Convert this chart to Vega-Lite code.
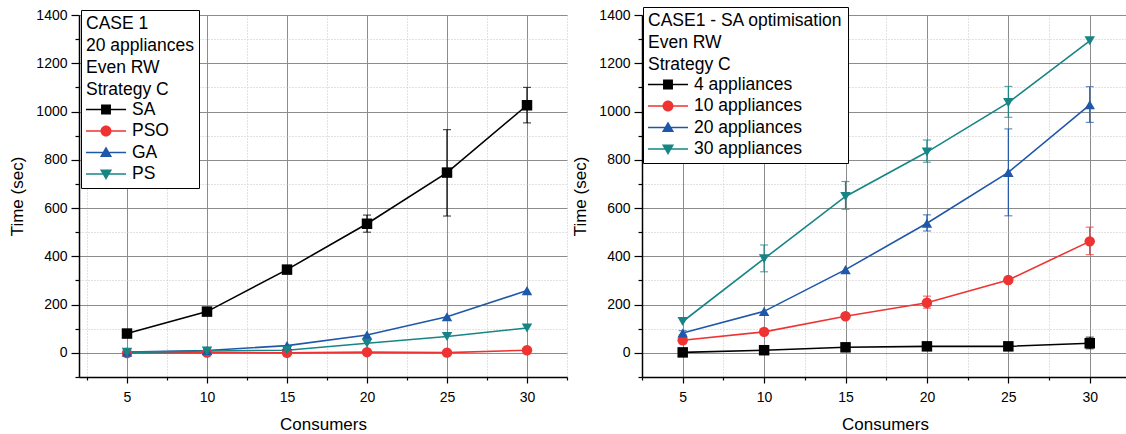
{
  "$schema": "https://vega.github.io/schema/vega-lite/v6.json",
  "padding": {"left": 8, "top": 6, "right": 0, "bottom": 0},
  "spacing": 3,
  "datasets": {
    "left": [
      {"c": 5, "s": "SA", "t": 80}, {"c": 10, "s": "SA", "t": 171}, {"c": 15, "s": "SA", "t": 345}, {"c": 20, "s": "SA", "t": 535}, {"c": 25, "s": "SA", "t": 747}, {"c": 30, "s": "SA", "t": 1026},
      {"c": 5, "s": "PSO", "t": -1}, {"c": 10, "s": "PSO", "t": 1}, {"c": 15, "s": "PSO", "t": 0}, {"c": 20, "s": "PSO", "t": 3}, {"c": 25, "s": "PSO", "t": 1}, {"c": 30, "s": "PSO", "t": 11},
      {"c": 5, "s": "GA", "t": 3}, {"c": 10, "s": "GA", "t": 10}, {"c": 15, "s": "GA", "t": 30}, {"c": 20, "s": "GA", "t": 74}, {"c": 25, "s": "GA", "t": 150}, {"c": 30, "s": "GA", "t": 258},
      {"c": 5, "s": "PS", "t": 2}, {"c": 10, "s": "PS", "t": 8}, {"c": 15, "s": "PS", "t": 11}, {"c": 20, "s": "PS", "t": 40}, {"c": 25, "s": "PS", "t": 68}, {"c": 30, "s": "PS", "t": 103}
    ],
    "leftErr": [
      {"c": 20, "s": "SA", "lo": 500, "hi": 571},
      {"c": 25, "s": "SA", "lo": 567, "hi": 925},
      {"c": 30, "s": "SA", "lo": 953, "hi": 1100}
    ],
    "right": [
      {"c": 5, "s": "4 appliances", "t": 2}, {"c": 10, "s": "4 appliances", "t": 11}, {"c": 15, "s": "4 appliances", "t": 23}, {"c": 20, "s": "4 appliances", "t": 27}, {"c": 25, "s": "4 appliances", "t": 27}, {"c": 30, "s": "4 appliances", "t": 40},
      {"c": 5, "s": "10 appliances", "t": 52}, {"c": 10, "s": "10 appliances", "t": 87}, {"c": 15, "s": "10 appliances", "t": 152}, {"c": 20, "s": "10 appliances", "t": 208}, {"c": 25, "s": "10 appliances", "t": 302}, {"c": 30, "s": "10 appliances", "t": 462},
      {"c": 5, "s": "20 appliances", "t": 82}, {"c": 10, "s": "20 appliances", "t": 172}, {"c": 15, "s": "20 appliances", "t": 345}, {"c": 20, "s": "20 appliances", "t": 537}, {"c": 25, "s": "20 appliances", "t": 748}, {"c": 30, "s": "20 appliances", "t": 1028},
      {"c": 5, "s": "30 appliances", "t": 130}, {"c": 10, "s": "30 appliances", "t": 390}, {"c": 15, "s": "30 appliances", "t": 648}, {"c": 20, "s": "30 appliances", "t": 832}, {"c": 25, "s": "30 appliances", "t": 1037}, {"c": 30, "s": "30 appliances", "t": 1293}
    ],
    "rightErr": [
      {"c": 30, "s": "4 appliances", "lo": 17, "hi": 65},
      {"c": 5, "s": "10 appliances", "lo": 38, "hi": 66},
      {"c": 20, "s": "10 appliances", "lo": 185, "hi": 235},
      {"c": 30, "s": "10 appliances", "lo": 407, "hi": 521},
      {"c": 5, "s": "20 appliances", "lo": 74, "hi": 92},
      {"c": 20, "s": "20 appliances", "lo": 505, "hi": 572},
      {"c": 25, "s": "20 appliances", "lo": 568, "hi": 928},
      {"c": 30, "s": "20 appliances", "lo": 955, "hi": 1103},
      {"c": 10, "s": "30 appliances", "lo": 336, "hi": 447},
      {"c": 15, "s": "30 appliances", "lo": 595, "hi": 710},
      {"c": 20, "s": "30 appliances", "lo": 790, "hi": 882},
      {"c": 25, "s": "30 appliances", "lo": 976, "hi": 1104}
    ]
  },
  "hconcat": [
    {
      "width": 488,
      "height": 362,
      "data": {"name": "left"},
      "resolve": {"scale": {"shape": "independent", "color": "independent"}},
      "encoding": {
        "x": {"field": "c", "type": "quantitative", "scale": {"domain": [2, 32.5], "nice": false, "zero": false},
          "axis": {"title": "Consumers", "values": [2.5, 5, 7.5, 10, 12.5, 15, 17.5, 20, 22.5, 25, 27.5, 30, 32.5],
            "labelExpr": "datum.value % 5 === 0 ? datum.label : ''",
            "tickSize": {"condition": {"test": "datum.value % 5 === 0", "value": 6}, "value": 3},
            "gridColor": {"condition": {"test": "datum.value % 5 === 0", "value": "#8c8c8c"}, "value": "#c4c4c4"},
            "gridDash": {"condition": {"test": "datum.value % 5 === 0", "value": []}, "value": [1, 2]}}},
        "y": {"field": "t", "type": "quantitative", "scale": {"domain": [-100, 1400], "nice": false, "zero": false},
          "axis": {"title": "Time (sec)", "format": "d", "values": [-100, 0, 100, 200, 300, 400, 500, 600, 700, 800, 900, 1000, 1100, 1200, 1300, 1400],
            "labelExpr": "datum.value % 200 === 0 ? datum.label : ''",
            "tickSize": {"condition": {"test": "datum.value % 200 === 0", "value": 8}, "value": 4},
            "gridColor": {"condition": {"test": "datum.value % 200 === 0", "value": "#8c8c8c"}, "value": "#c4c4c4"},
            "gridDash": {"condition": {"test": "datum.value % 200 === 0", "value": []}, "value": [1, 2]}}},
        "color": {"field": "s", "type": "nominal", "scale": {"domain": ["SA", "PSO", "GA", "PS"], "range": ["#000000", "#ef3333", "#1f58a8", "#178585"]}, "legend": null}
      },
      "layer": [
        {"mark": {"type": "line", "strokeWidth": 1.6}},
        {
          "data": {"name": "leftErr"},
          "mark": {"type": "errorbar", "ticks": true, "size": 8, "thickness": 1.2},
          "encoding": {
            "y": {"field": "lo", "type": "quantitative", "scale": {"domain": [-100, 1400], "nice": false, "zero": false},
              "axis": {"title": "Time (sec)", "format": "d", "values": [-100, 0, 100, 200, 300, 400, 500, 600, 700, 800, 900, 1000, 1100, 1200, 1300, 1400],
                "labelExpr": "datum.value % 200 === 0 ? datum.label : ''",
                "tickSize": {"condition": {"test": "datum.value % 200 === 0", "value": 8}, "value": 4},
                "gridColor": {"condition": {"test": "datum.value % 200 === 0", "value": "#8c8c8c"}, "value": "#c4c4c4"},
                "gridDash": {"condition": {"test": "datum.value % 200 === 0", "value": []}, "value": [1, 2]}}},
            "y2": {"field": "hi"}
          }
        },
        {
          "mark": {"type": "point", "filled": true, "opacity": 1, "size": 110},
          "encoding": {
            "shape": {"field": "s", "type": "nominal", "scale": {"domain": ["SA", "PSO", "GA", "PS"], "range": ["square", "circle", "triangle-up", "triangle-down"]}, "legend": null}
          }
        },
        {
          "transform": [{"filter": "datum.t < -9999"}],
          "mark": {"type": "point", "filled": true, "opacity": 1},
          "encoding": {
            "color": {"field": "s", "type": "nominal", "scale": {"domain": ["SA", "PSO", "GA", "PS"], "range": ["#000000", "#ef3333", "#1f58a8", "#178585"]},
              "legend": {"title": ["CASE 1", "20 appliances", "Even RW", "Strategy C"], "orient": "none", "legendX": 2, "legendY": -5}},
            "shape": {"field": "s", "type": "nominal", "scale": {"domain": ["SA", "PSO", "GA", "PS"], "range": [
              "M-1.82,-0.07H1.82V0.07H-1.82Z M-0.45,-0.45H0.45V0.45H-0.45Z",
              "M-1.82,-0.07H1.82V0.07H-1.82Z M0.5,0A0.5,0.5 0 1,1 -0.5,0A0.5,0.5 0 1,1 0.5,0Z",
              "M-1.82,-0.07H1.82V0.07H-1.82Z M0,-0.55L0.55,0.42H-0.55Z",
              "M-1.82,-0.07H1.82V0.07H-1.82Z M-0.55,-0.42H0.55L0,0.55Z"]},
              "legend": {"title": ["CASE 1", "20 appliances", "Even RW", "Strategy C"], "orient": "none", "legendX": 2, "legendY": -5}}
          }
        }
      ]
    },
    {
      "width": 486,
      "height": 362,
      "data": {"name": "right"},
      "resolve": {"scale": {"shape": "independent", "color": "independent"}},
      "encoding": {
        "x": {"field": "c", "type": "quantitative", "scale": {"domain": [2.5, 32.35], "nice": false, "zero": false},
          "axis": {"title": "Consumers", "values": [2.5, 5, 7.5, 10, 12.5, 15, 17.5, 20, 22.5, 25, 27.5, 30],
            "labelExpr": "datum.value % 5 === 0 ? datum.label : ''",
            "tickSize": {"condition": {"test": "datum.value % 5 === 0", "value": 6}, "value": 3},
            "gridColor": {"condition": {"test": "datum.value % 5 === 0", "value": "#8c8c8c"}, "value": "#c4c4c4"},
            "gridDash": {"condition": {"test": "datum.value % 5 === 0", "value": []}, "value": [1, 2]}}},
        "y": {"field": "t", "type": "quantitative", "scale": {"domain": [-100, 1400], "nice": false, "zero": false},
          "axis": {"title": "Time (sec)", "format": "d", "values": [-100, 0, 100, 200, 300, 400, 500, 600, 700, 800, 900, 1000, 1100, 1200, 1300, 1400],
            "labelExpr": "datum.value % 200 === 0 ? datum.label : ''",
            "tickSize": {"condition": {"test": "datum.value % 200 === 0", "value": 8}, "value": 4},
            "gridColor": {"condition": {"test": "datum.value % 200 === 0", "value": "#8c8c8c"}, "value": "#c4c4c4"},
            "gridDash": {"condition": {"test": "datum.value % 200 === 0", "value": []}, "value": [1, 2]}}},
        "color": {"field": "s", "type": "nominal", "scale": {"domain": ["4 appliances", "10 appliances", "20 appliances", "30 appliances"], "range": ["#000000", "#ef3333", "#1f58a8", "#178585"]}, "legend": null}
      },
      "layer": [
        {"mark": {"type": "line", "strokeWidth": 1.6}},
        {
          "data": {"name": "rightErr"},
          "mark": {"type": "errorbar", "ticks": true, "size": 8, "thickness": 1.2},
          "encoding": {
            "y": {"field": "lo", "type": "quantitative", "scale": {"domain": [-100, 1400], "nice": false, "zero": false},
              "axis": {"title": "Time (sec)", "format": "d", "values": [-100, 0, 100, 200, 300, 400, 500, 600, 700, 800, 900, 1000, 1100, 1200, 1300, 1400],
                "labelExpr": "datum.value % 200 === 0 ? datum.label : ''",
                "tickSize": {"condition": {"test": "datum.value % 200 === 0", "value": 8}, "value": 4},
                "gridColor": {"condition": {"test": "datum.value % 200 === 0", "value": "#8c8c8c"}, "value": "#c4c4c4"},
                "gridDash": {"condition": {"test": "datum.value % 200 === 0", "value": []}, "value": [1, 2]}}},
            "y2": {"field": "hi"}
          }
        },
        {
          "mark": {"type": "point", "filled": true, "opacity": 1, "size": 110},
          "encoding": {
            "shape": {"field": "s", "type": "nominal", "scale": {"domain": ["4 appliances", "10 appliances", "20 appliances", "30 appliances"], "range": ["square", "circle", "triangle-up", "triangle-down"]}, "legend": null}
          }
        },
        {
          "transform": [{"filter": "datum.t < -9999"}],
          "mark": {"type": "point", "filled": true, "opacity": 1},
          "encoding": {
            "color": {"field": "s", "type": "nominal", "scale": {"domain": ["4 appliances", "10 appliances", "20 appliances", "30 appliances"], "range": ["#000000", "#ef3333", "#1f58a8", "#178585"]},
              "legend": {"title": ["CASE1 - SA optimisation", "Even RW", "Strategy C"], "orient": "none", "legendX": 1, "legendY": -8}},
            "shape": {"field": "s", "type": "nominal", "scale": {"domain": ["4 appliances", "10 appliances", "20 appliances", "30 appliances"], "range": [
              "M-1.82,-0.07H1.82V0.07H-1.82Z M-0.45,-0.45H0.45V0.45H-0.45Z",
              "M-1.82,-0.07H1.82V0.07H-1.82Z M0.5,0A0.5,0.5 0 1,1 -0.5,0A0.5,0.5 0 1,1 0.5,0Z",
              "M-1.82,-0.07H1.82V0.07H-1.82Z M0,-0.55L0.55,0.42H-0.55Z",
              "M-1.82,-0.07H1.82V0.07H-1.82Z M-0.55,-0.42H0.55L0,0.55Z"]},
              "legend": {"title": ["CASE1 - SA optimisation", "Even RW", "Strategy C"], "orient": "none", "legendX": 1, "legendY": -8}}
          }
        }
      ]
    }
  ],
  "config": {
    "font": "Liberation Sans",
    "view": {"stroke": null},
    "axis": {
      "labelFont": "Liberation Sans", "labelFontSize": 14, "labelColor": "#000000",
      "titleFont": "Liberation Sans", "titleFontSize": 17, "titleFontWeight": "normal", "titleColor": "#000000",
      "domainColor": "#000000", "domainWidth": 1.5, "tickColor": "#000000", "tickWidth": 1.2,
      "grid": true, "gridWidth": 1, "labelPadding": 4, "labelOverlap": false, "labelFlush": false, "labelBound": false
    },
    "axisX": {"titlePadding": 12, "labelPadding": 7},
    "axisY": {"titlePadding": 9},
    "legend": {
      "strokeColor": "#000000", "fillColor": "#ffffff", "padding": 5, "cornerRadius": 0,
      "titleFont": "Liberation Sans", "titleFontSize": 17.5, "titleFontWeight": "normal", "titleColor": "#000000", "titleLineHeight": 22, "titleLimit": 400, "titlePadding": 0,
      "labelFont": "Liberation Sans", "labelFontSize": 17.5, "labelColor": "#000000", "labelLimit": 400,
      "symbolSize": 484, "symbolOffset": 9, "labelOffset": 15, "rowPadding": 1.5, "symbolStrokeWidth": 0, "symbolOpacity": 1
    }
  }
}
